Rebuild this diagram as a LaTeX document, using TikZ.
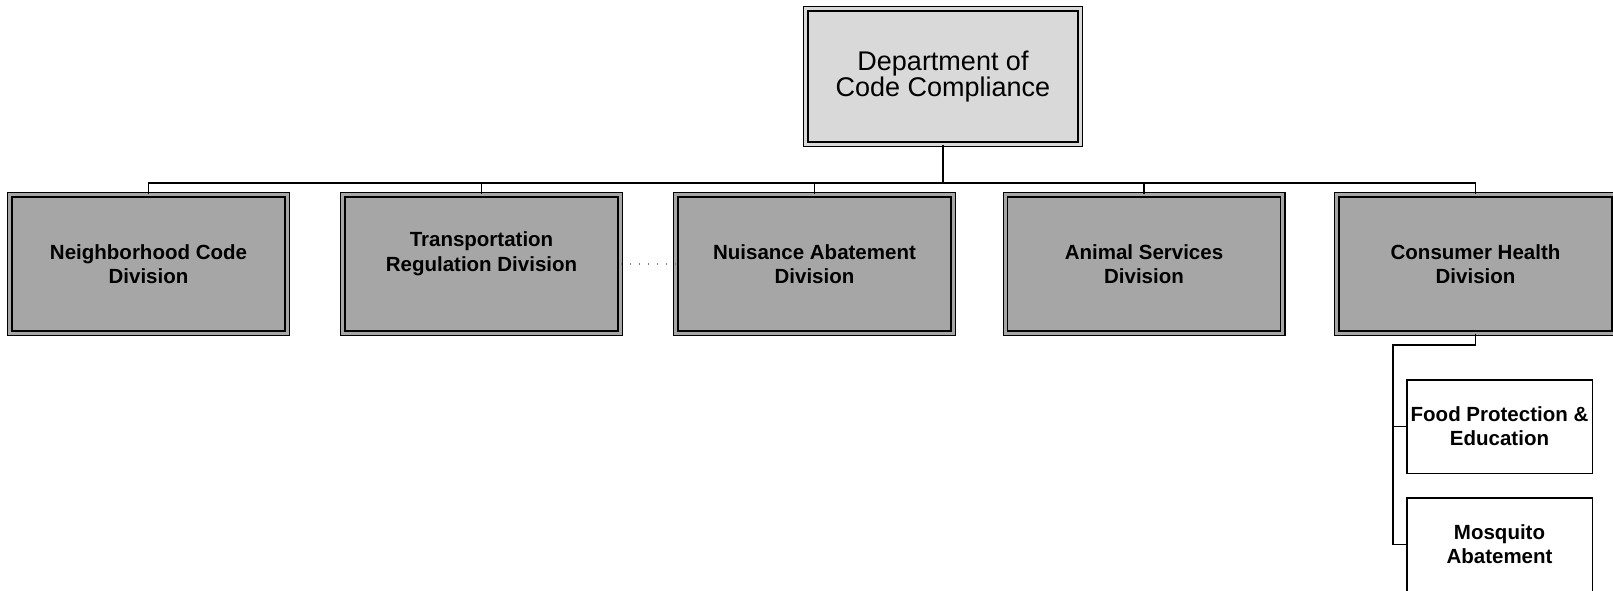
\documentclass[tikz,border=0pt]{standalone}
\usepackage{fontspec}
\setmainfont{Liberation Sans}
\usepackage{tikz}

\definecolor{deptgray}{HTML}{D9D9D9}
\definecolor{divgray}{HTML}{A6A6A6}

\begin{document}
\begin{tikzpicture}[x=1pt,y=-1pt,
                    dept/.style={draw=black,fill=deptgray,double=deptgray,
                                 line width=1.3pt,double distance=3pt,
                                 minimum width=274.4pt,minimum height=135.4pt,
                                 align=center,inner sep=0pt,
                                 font=\fontsize{27}{25}\selectfont},
                    division/.style={draw=black,fill=divgray,double=divgray,
                                     line width=1.3pt,double distance=3pt,
                                     minimum width=277.4pt,minimum height=138.4pt,
                                     align=center,inner sep=0pt,
                                     font=\fontsize{20.5}{24.5}\selectfont\bfseries},
                    unit/.style={draw=black,fill=white,line width=1.5pt,
                                 minimum width=185.5pt,minimum height=93.5pt,
                                 align=center,inner sep=0pt,
                                 font=\fontsize{20.5}{24}\selectfont\bfseries},
                    link/.style={draw=black,line width=1.5pt}]
                              \useasboundingbox (0,0) rectangle (1613,590);

                              % Department
                              \node[dept] (dept) at (943,76.5) {Department of\\Code Compliance};

                              % Divisions
                              \node[division] (nbh) at (148.5,264) {Neighborhood Code\\Division};
                              \node[division] (trans) at (481.5,264) {Transportation\\Regulation Division\\~};
                              \node[division] (nuis) at (814.5,264) {Nuisance Abatement\\Division};
                              \node[division] (anim) at (1144,264) {Animal Services\\Division};
                              \node[division] (cons) at (1475.5,264) {Consumer Health\\Division};

                              % Units
                              \node[unit] (food) at (1499.5,426.5) {Food Protection \&\\Education};
                              \node[unit] (mosq) at (1499.5,544.5) {Mosquito\\Abatement};

                              % Connectors
                              \coordinate (bus) at (0,183);
                              \coordinate (subbus) at (1393,345);
                              \draw[link] (dept.south) -- (dept.south |- bus);
                              \draw[link] (nbh.north) -- (nbh.north |- bus) -| (cons.north);
                              \draw[link] (trans.north) -- (trans.north |- bus);
                              \draw[link] (nuis.north) -- (nuis.north |- bus);
                              \draw[link] (anim.north) -- (anim.north |- bus);
                              \draw[link] (cons.south) |- (subbus) |- (food.west);
                              \draw[link] (subbus) |- (mosq.west);

                              % Dotted link
                              \draw[gray,line width=1.5pt,dash pattern=on 1.5pt off 7.5pt]
                              (trans.east) -- (nuis.west);
                        \end{tikzpicture}
\end{document}
